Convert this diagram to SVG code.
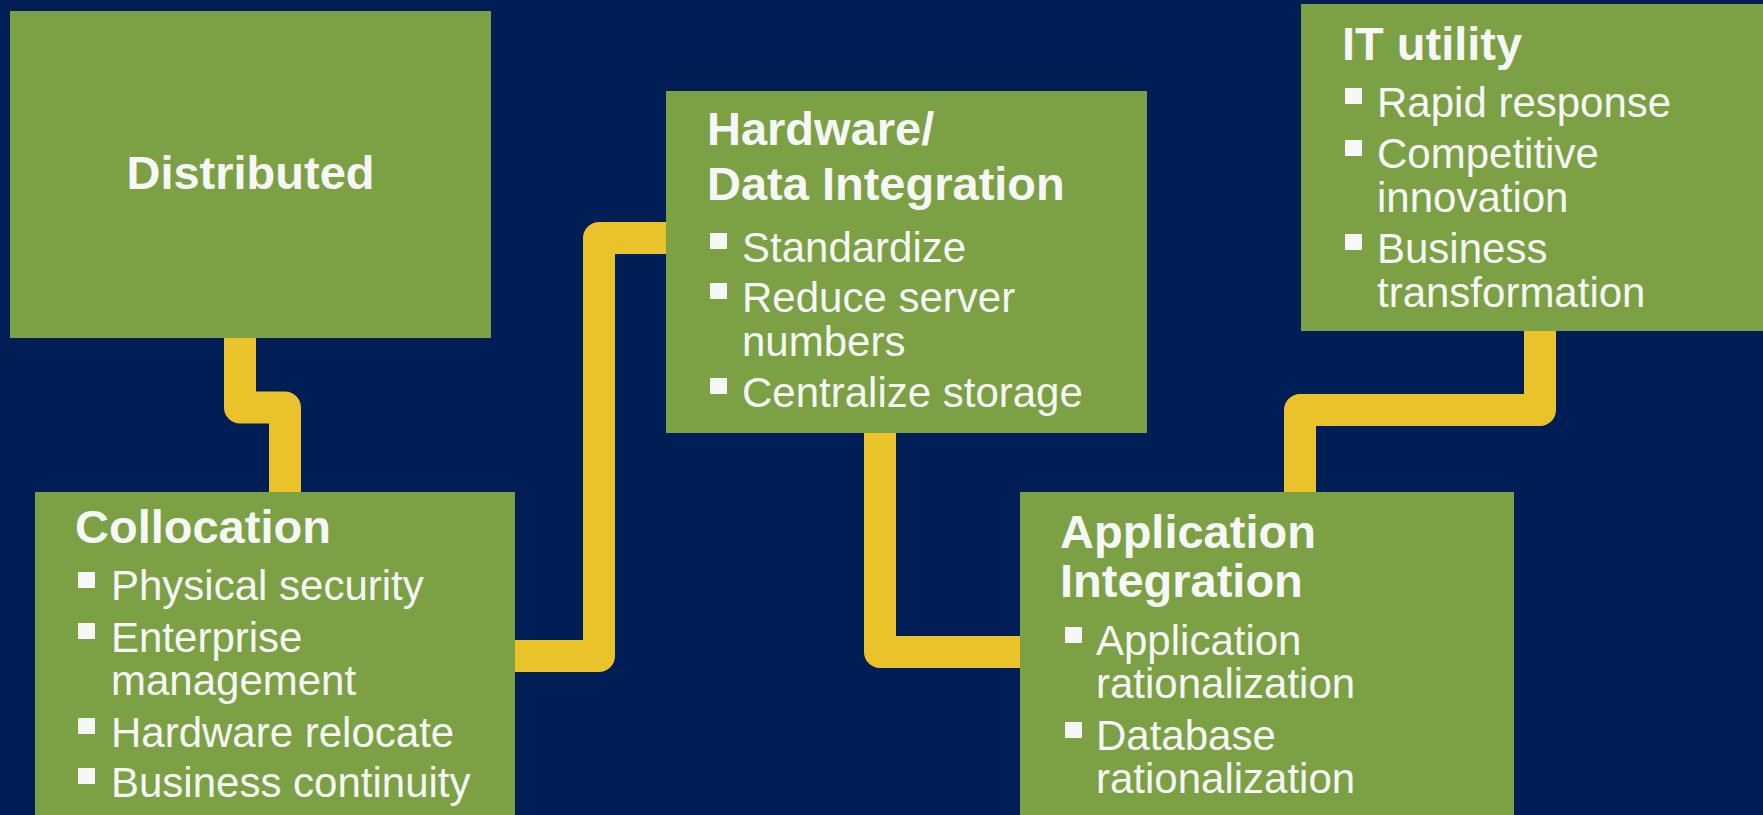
<svg xmlns="http://www.w3.org/2000/svg" width="1763" height="815" viewBox="0 0 1763 815">
<style>
.bg{fill:#001E56}
.box{fill:#7BA144}
.con{fill:none;stroke:#EAC22A;stroke-width:32;stroke-linejoin:round;stroke-linecap:butt}
.t{font-family:"Liberation Sans",Arial,sans-serif;font-weight:bold;font-size:47px;fill:#F7F7F7}
.b{font-family:"Liberation Sans",Arial,sans-serif;font-size:42px;fill:#F7F7F7}
.sq{fill:#F7F7F7}
</style>
<rect class="bg" x="0" y="0" width="1763" height="815"/>
<g id="connectors">
<path class="con" d="M240,338 V407.5 H285 V492"/>
<path class="con" d="M515,656 H599 V238 H666"/>
<path class="con" d="M880,433 V652 H1020"/>
<path class="con" d="M1300,492 V410 H1540 V331"/>
</g>
<g id="distributed">
<rect class="box" x="10" y="11" width="481" height="327"/>
<text class="t" x="250.5" y="189" text-anchor="middle">Distributed</text>
</g>
<g id="collocation">
<rect class="box" x="35" y="492" width="480" height="323"/>
<text class="t" x="75" y="543">Collocation</text>
<rect class="sq" x="78" y="572" width="17" height="16"/>
<text class="b" x="111" y="600">Physical security</text>
<rect class="sq" x="78" y="623" width="17" height="16"/>
<text class="b" x="111" y="652">Enterprise</text>
<text class="b" x="111" y="695">management</text>
<rect class="sq" x="78" y="718" width="17" height="16"/>
<text class="b" x="111" y="747">Hardware relocate</text>
<rect class="sq" x="78" y="768" width="17" height="16"/>
<text class="b" x="111" y="797">Business continuity</text>
</g>
<g id="hardware">
<rect class="box" x="666" y="91" width="481" height="342"/>
<text class="t" x="707" y="145">Hardware/</text>
<text class="t" x="707" y="200">Data Integration</text>
<rect class="sq" x="710" y="233" width="17" height="16"/>
<text class="b" x="742" y="262">Standardize</text>
<rect class="sq" x="710" y="283" width="17" height="16"/>
<text class="b" x="742" y="312">Reduce server</text>
<text class="b" x="742" y="356">numbers</text>
<rect class="sq" x="710" y="378" width="17" height="16"/>
<text class="b" x="742" y="407">Centralize storage</text>
</g>
<g id="application">
<rect class="box" x="1020" y="492" width="494" height="323"/>
<text class="t" x="1060" y="548">Application</text>
<text class="t" x="1060" y="597">Integration</text>
<rect class="sq" x="1065" y="627" width="17" height="16"/>
<text class="b" x="1096" y="655">Application</text>
<text class="b" x="1096" y="698">rationalization</text>
<rect class="sq" x="1065" y="722" width="17" height="16"/>
<text class="b" x="1096" y="750">Database</text>
<text class="b" x="1096" y="793">rationalization</text>
</g>
<g id="itutility">
<rect class="box" x="1301" y="4" width="462" height="327"/>
<text class="t" x="1342" y="60">IT utility</text>
<rect class="sq" x="1345" y="88" width="17" height="16"/>
<text class="b" x="1377" y="117">Rapid response</text>
<rect class="sq" x="1345" y="140" width="17" height="16"/>
<text class="b" x="1377" y="168">Competitive</text>
<text class="b" x="1377" y="212">innovation</text>
<rect class="sq" x="1345" y="234" width="17" height="16"/>
<text class="b" x="1377" y="263">Business</text>
<text class="b" x="1377" y="307">transformation</text>
</g>
</svg>
